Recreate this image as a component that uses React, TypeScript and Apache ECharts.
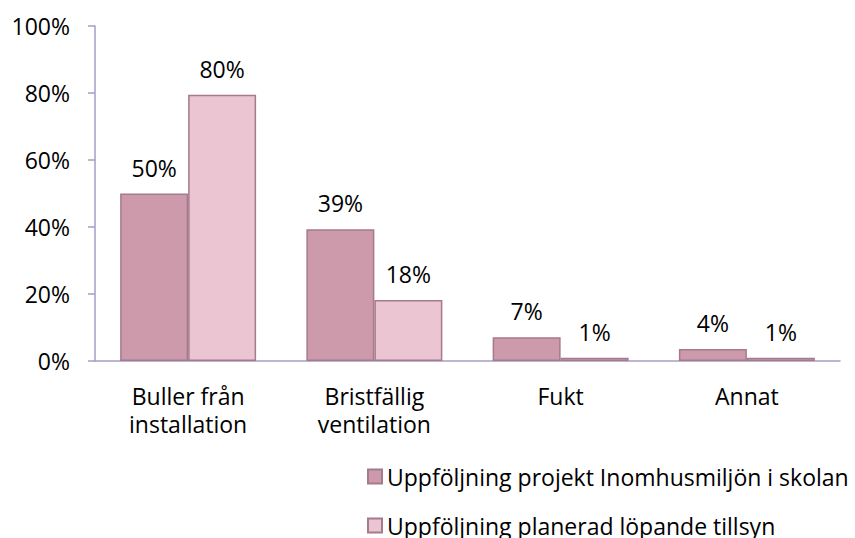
import React, { useEffect, useRef } from "react";
import * as echarts from "echarts";

const categories = ["Buller från\ninstallation", "Bristfällig\nventilation", "Fukt", "Annat"];
const seriesNames = [
  "Uppföljning projekt Inomhusmiljön i skolan",
  "Uppföljning planerad löpande tillsyn",
];
const projektValues = [50, 39.3, 7.1, 3.6];
const tillsynValues = [79.5, 18.2, 1, 1];
const yTicks = [0, 20, 40, 60, 80, 100];

const FONT = "'Open Sans', sans-serif";
const FS = 23;

export default function App() {
  const ref = useRef<HTMLDivElement>(null);
  useEffect(() => {
    if (!ref.current) return;
    const chart = echarts.init(ref.current, undefined, { renderer: "svg" });
    const label = {
      show: true,
      position: "top" as const,
      distance: 13,
      fontFamily: FONT,
      fontSize: FS,
      lineHeight: 26,
      color: "#000",
      formatter: (p: any) => Math.round(p.value) + "%",
    };
    const legendBase = {
      orient: "vertical" as const,
      left: 367,
      padding: 0,
      itemWidth: 14,
      itemHeight: 14,
      icon: "rect",
      textStyle: { fontFamily: FONT, fontSize: FS, lineHeight: 22, color: "#000" },
    };
    chart.setOption({
      animation: false,
      textStyle: { fontFamily: FONT },
      grid: { left: 95, right: 15, top: 26, bottom: 177, containLabel: false },
      legend: [
        { ...legendBase, top: 465, data: [seriesNames[0]] },
        { ...legendBase, top: 514, data: [seriesNames[1]] },
      ],
      xAxis: {
        type: "category",
        data: categories,
        axisLine: { show: true, lineStyle: { color: "#A99BC6", width: 1.5 } },
        axisTick: { show: false },
        axisLabel: {
          fontFamily: FONT,
          fontSize: FS,
          color: "#000",
          margin: 21,
          lineHeight: 28,
          interval: 0,
        },
      },
      yAxis: {
        type: "value",
        min: 0,
        max: 100,
        interval: 20,
        axisLine: { show: true, lineStyle: { color: "#A99BC6", width: 1.5 } },
        axisTick: { show: true, length: 7, lineStyle: { color: "#A99BC6", width: 1.5 } },
        splitLine: { show: false },
        axisLabel: {
          fontFamily: FONT,
          fontSize: FS,
          color: "#000",
          margin: 25,
          formatter: (v: number) => (yTicks.includes(v) ? v + "%" : ""),
        },
      },
      series: [
        {
          name: seriesNames[0],
          type: "bar",
          data: projektValues,
          barGap: "0%",
          barCategoryGap: "27%",
          itemStyle: { color: "#CC9AAB", borderColor: "#A47A8C", borderWidth: 1.5 },
          label,
        },
        {
          name: seriesNames[1],
          type: "bar",
          data: tillsynValues,
          barGap: "0%",
          barCategoryGap: "27%",
          itemStyle: { color: "#EBC5D2", borderColor: "#A47A8C", borderWidth: 1.5 },
          label,
        },
      ],
    });
    return () => chart.dispose();
  }, []);
  return <div ref={ref} style={{ width: 855, height: 538, position: "absolute", left: 0, top: 0 }} />;
}
